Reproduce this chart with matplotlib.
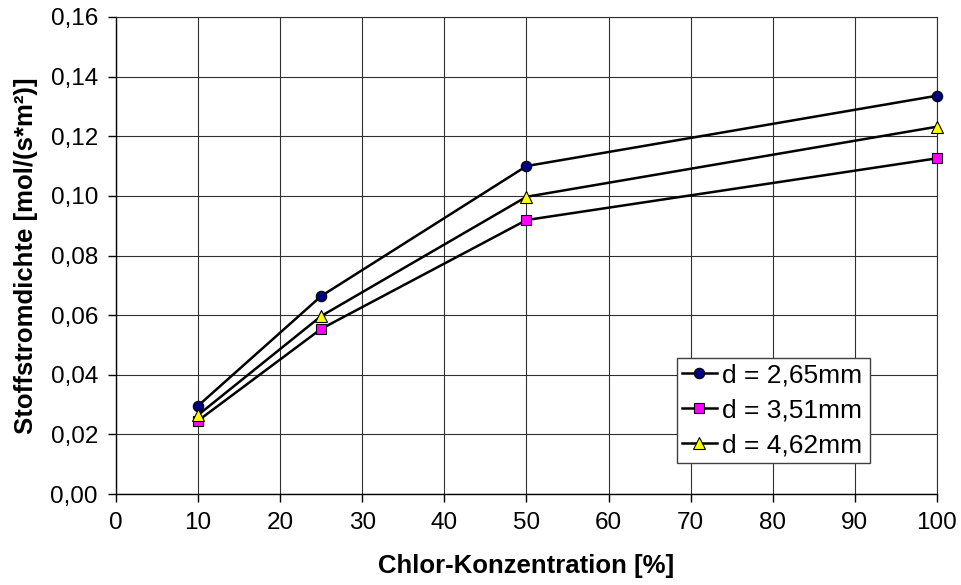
import matplotlib
matplotlib.use("Agg")
import matplotlib.pyplot as plt
from matplotlib.ticker import FuncFormatter, MultipleLocator

plt.rcParams['font.family'] = ['Liberation Sans', 'DejaVu Sans']

# Chlorine concentration [%]
konzentration = [10, 25, 50, 100]

# Mass flux density [mol/(s*m²)] per particle diameter
d_265 = [0.0296, 0.0664, 0.1100, 0.1336]
d_351 = [0.0246, 0.0554, 0.0919, 0.1126]
d_462 = [0.0265, 0.0597, 0.0997, 0.1232]

labels = ["d = 2,65mm", "d = 3,51mm", "d = 4,62mm"]

fig = plt.figure(figsize=(9.62, 5.85), dpi=100)
ax = fig.add_axes([116 / 962, 1 - 494 / 585, (937 - 116) / 962, (494 - 17) / 585])

line_kw = dict(color='black', linewidth=1.8, markeredgecolor='black',
               markeredgewidth=0.8, clip_on=False, zorder=3)
ax.plot(konzentration, d_265, marker='o', markersize=7.5, markerfacecolor='#000080',
        label=labels[0], **line_kw)
ax.plot(konzentration, d_351, marker='s', markersize=7.5, markerfacecolor='#FF00FF',
        label=labels[1], **line_kw)
ax.plot(konzentration, d_462, marker='^', markersize=8, markerfacecolor='#FFFF00',
        label=labels[2], **line_kw)

ax.set_xlim(0, 100)
ax.set_ylim(0, 0.16)
ax.xaxis.set_major_locator(MultipleLocator(10))
ax.yaxis.set_major_locator(MultipleLocator(0.02))
ax.yaxis.set_major_formatter(FuncFormatter(lambda v, p: f"{v:.2f}".replace('.', ',')))

ax.grid(True, color='#303030', linewidth=0.8)
ax.set_axisbelow(True)
for side in ('top', 'right'):
    ax.spines[side].set_color('#303030')
    ax.spines[side].set_linewidth(0.8)
for side in ('left', 'bottom'):
    ax.spines[side].set_color('black')
    ax.spines[side].set_linewidth(1.0)

ax.tick_params(direction='out', length=6, width=1, labelsize=17.5, pad=7)

ax.set_xlabel("Chlor-Konzentration [%]", fontsize=18.5, fontweight='bold', labelpad=14)
ax.set_ylabel("Stoffstromdichte [mol/(s*m²)]", fontsize=18.5, fontweight='bold', labelpad=9)

leg = ax.legend(loc='lower left', bbox_to_anchor=((677 - 116) / 821, (494 - 463) / 477,
                                                   (870 - 677) / 821, (463 - 356) / 477),
                mode='expand', fontsize=19, fancybox=False, framealpha=1,
                edgecolor='#404040', handlelength=1.3, handletextpad=0.2,
                borderpad=0.2, labelspacing=0.42, borderaxespad=0)
leg.get_frame().set_linewidth(1.0)

fig.savefig("out.png", dpi=100)
